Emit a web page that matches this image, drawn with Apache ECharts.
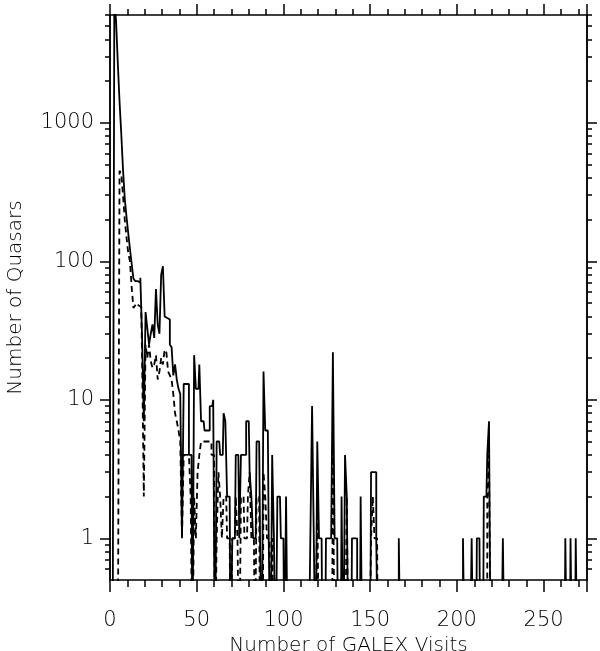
<!DOCTYPE html>
<html>
<head>
<meta charset="utf-8">
<script src="https://cdn.jsdelivr.net/npm/echarts@6/dist/echarts.min.js"></script>
<style>
html,body{margin:0;padding:0;background:#fff;}
#chart{width:600px;height:651px;}
</style>
</head>
<body>
<div id="chart"></div>
<script>
// Histogram counts, index = number of GALEX visits (bins 0..275)
const solidCounts = [
  0,0,0,8000,5400,2700,1420,830,460,285,
  210,160,123,96,75,72,72,70,76,28,
  7,43,33,25,30,35,28,63,35,30,
  80,92,40,39,38,25,24,15,18,14,
  12,11,1,13,13,13,4,4,0,21,
  12,12,18,7,7,6,6,6,9,9,
  10,0,5,5,4,4,8,7,2,2,
  0,1,1,4,4,1,4,4,4,7,
  7,3,2,1,1,5,5,1,0,16,
  6,6,1,0,4,1,0,2,2,1,
  1,0,2,0,0,0,0,0,0,0,
  0,0,0,0,0,0,1,9,1,0,
  5,1,1,0,0,1,1,1,1,22,
  1,1,0,0,2,0,4,2,0,0,
  1,1,1,0,0,2,0,0,0,0,
  0,3,3,3,1,0,0,0,0,0,
  0,0,0,0,0,0,0,1,0,0,
  0,0,0,0,0,0,0,0,0,0,
  0,0,0,0,0,0,0,0,0,0,
  0,0,0,0,0,0,0,0,0,0,
  0,0,0,0,1,0,0,0,0,1,
  0,0,1,1,0,0,2,2,4,7,
  0,0,0,0,0,0,0,1,0,0,
  0,0,0,0,0,0,0,0,0,0,
  0,0,0,0,0,0,0,0,0,0,
  0,0,0,0,0,0,0,0,0,0,
  0,0,0,1,0,0,1,0,0,1,
  0,0,0,0,0,0
];
const dashedCounts = [
  0,0,0,0,0,0,450,430,300,200,
  150,115,100,65,46,48,50,48,47,20,
  2,25,20,25,19,17,18,21,14,16,
  20,18,23,22,16,15,14,11,8,7,
  6,5,1,4,4,4,4,2,0,2,
  1,3,4,5,5,5,5,5,5,4,
  4,0,1,3,2,1,2,2,1,1,
  0,1,1,2,1,0,2,2,1,1,
  2,3,1,1,0,2,2,0,0,3,
  2,1,1,0,1,0,0,0,0,0,
  0,0,0,0,0,0,0,0,0,0,
  0,0,0,0,0,0,0,0,0,0,
  2,0,0,0,0,0,0,0,0,5,
  0,0,0,0,0,0,0,2,0,0,
  0,0,0,0,0,0,0,0,0,0,
  0,1,2,1,1,0,0,0,0,0,
  0,0,0,0,0,0,0,0,0,0,
  0,0,0,0,0,0,0,0,0,0,
  0,0,0,0,0,0,0,0,0,0,
  0,0,0,0,0,0,0,0,0,0,
  0,0,0,0,0,0,0,0,0,0,
  0,0,0,0,0,0,0,0,2,4,
  0,0,0,0,0,0,0,0,0,0,
  0,0,0,0,0,0,0,0,0,0,
  0,0,0,0,0,0,0,0,0,0,
  0,0,0,0,0,0,0,0,0,0,
  0,0,0,0,0,0,0,0,0,0,
  0,0,0,0,0,0
];
const yMajorTicks = [1, 10, 100, 1000];
const yMinorTicks = [0.6,0.7,0.8,0.9, 2,3,4,5,6,7,8,9, 20,30,40,50,60,70,80,90,
                     200,300,400,500,600,700,800,900, 2000,3000,4000,5000,6000];
const xTickInterval = 50;
const xMin = 0, xMax = 275;
const yMin = 0.5, yMax = 6000;

const FLOOR = 0.1; // empty bins drawn below the axis floor (clipped)
const toPairs = arr => arr.map((v, i) => [i, v > 0 ? v : FLOOR]);

const FONT = 'DejaVu Sans';
const black = '#000';
const axisLine = {show: true, onZero: false, lineStyle: {color: black, width: 1.5}};
const tickStyle = {color: black, width: 1.5};

function xAx(pos, showLabel, majLen, minLen) {
  return {
    type: 'value', position: pos, min: xMin, max: xMax, interval: xTickInterval,
    axisLine: axisLine,
    axisTick: {show: true, inside: false, length: majLen, lineStyle: tickStyle},
    minorTick: {show: true, splitNumber: 5, length: minLen, lineStyle: tickStyle},
    axisLabel: {show: showLabel, fontFamily: FONT, fontSize: 21, fontWeight: 200, color: black, margin: 30,
                showMinLabel: true, showMaxLabel: false},
    splitLine: {show: false}, minorSplitLine: {show: false},
    name: showLabel ? 'Number of GALEX Visits' : '',
    nameLocation: 'middle', nameGap: 44,
    nameTextStyle: {fontFamily: FONT, fontSize: 20, fontWeight: 200, color: black}
  };
}
function yAx(pos, ticks, len, showLabel) {
  return {
    type: 'log', logBase: 10, position: pos, min: yMin, max: yMax,
    axisLine: axisLine,
    axisTick: {show: true, inside: false, length: len, customValues: ticks, lineStyle: tickStyle},
    minorTick: {show: false},
    axisLabel: showLabel ? {show: true, customValues: ticks, fontFamily: FONT, fontSize: 21, fontWeight: 200,
                 color: black, margin: 16, formatter: v => String(Math.round(v))} : {show: false},
    splitLine: {show: false},
    name: showLabel ? 'Number of Quasars' : '',
    nameLocation: 'middle', nameGap: 84,
    nameTextStyle: {fontFamily: FONT, fontSize: 20, fontWeight: 200, color: black}
  };
}

const chart = echarts.init(document.getElementById('chart'), null, {renderer: 'canvas'});
chart.setOption({
  backgroundColor: '#fff',
  animation: false,
  grid: {left: 110, right: 13, top: 15, bottom: 71, containLabel: false, outerBoundsMode: 'none'},
  xAxis: [xAx('bottom', true, 12, 7), xAx('top', false, 11, 6)],
  yAxis: [yAx('left', yMajorTicks, 10, true), yAx('left', yMinorTicks, 5, false),
          yAx('right', yMajorTicks, 10, false), yAx('right', yMinorTicks, 5, false)],
  series: [
    {type: 'line', step: 'middle', data: toPairs(solidCounts), xAxisIndex: 0, yAxisIndex: 0,
     symbol: 'none', clip: true, lineStyle: {color: black, width: 1.8}},
    {type: 'line', step: 'middle', data: toPairs(dashedCounts), xAxisIndex: 0, yAxisIndex: 0,
     symbol: 'none', clip: true, lineStyle: {color: black, width: 1.8, type: [6, 4]}}
  ]
});
</script>
</body>
</html>
